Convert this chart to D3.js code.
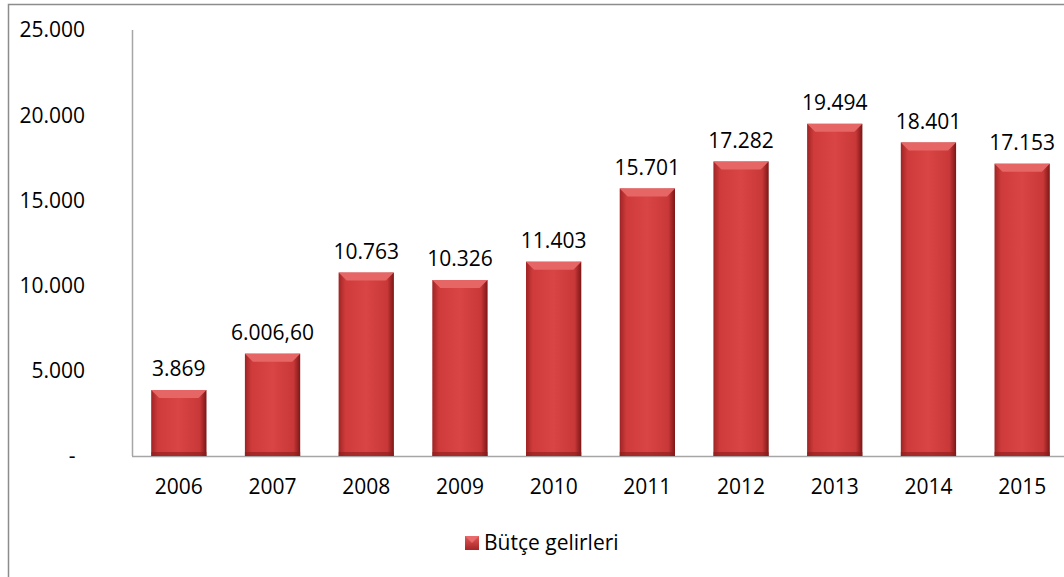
<!DOCTYPE html>
<html>
<head>
<meta charset="utf-8">
<style>
body { margin: 0; background: #fff; }
text { font-family: "Open Sans", "Noto Sans", sans-serif; }
</style>
</head>
<body>
<svg width="1064" height="577"></svg>
<script src="https://cdn.jsdelivr.net/npm/d3@7"></script>
<script>

var years = ["2006", "2007", "2008", "2009", "2010", "2011", "2012", "2013", "2014", "2015"];
var gelir = [3869, 6006.6, 10763, 10326, 11403, 15701, 17282, 19494, 18401, 17153];
var labels = ["3.869", "6.006,60", "10.763", "10.326", "11.403", "15.701", "17.282", "19.494", "18.401", "17.153"];
var yTicks = [0, 5000, 10000, 15000, 20000, 25000];
var yTickLabels = ["-", "5.000", "10.000", "15.000", "20.000", "25.000"];
var seriesName = "Bütçe gelirleri";

var svg = d3.select("svg"),
    margin = {top: 30, left: 132, bottom: 121},
    height = 577 - margin.top - margin.bottom,
    width = 937;

// outer chart frame
svg.append("rect")
    .attr("x", 8.5).attr("y", 4.5)
    .attr("width", 1100).attr("height", 620)
    .attr("fill", "none").attr("stroke", "#8c8c8c").attr("stroke-width", 1.5);

var g = svg.append("g").attr("transform", "translate(" + margin.left + "," + margin.top + ")");

var x = d3.scaleBand().domain(years).range([0, width]).paddingInner(0.41).paddingOuter(0.205);
var y = d3.scaleLinear().domain([0, 25000]).range([height, 0]);

var defs = svg.append("defs");
var grad = defs.append("linearGradient").attr("id", "barGrad").attr("x1", 0).attr("x2", 1).attr("y1", 0).attr("y2", 0);
grad.append("stop").attr("offset", "0%").attr("stop-color", "#9e2424");
grad.append("stop").attr("offset", "12%").attr("stop-color", "#cf3b3b");
grad.append("stop").attr("offset", "50%").attr("stop-color", "#d94444");
grad.append("stop").attr("offset", "88%").attr("stop-color", "#c93838");
grad.append("stop").attr("offset", "100%").attr("stop-color", "#7c1616");

var lg = defs.append("linearGradient").attr("id", "legGrad").attr("x1", 0).attr("x2", 0).attr("y1", 0).attr("y2", 1);
lg.append("stop").attr("offset", "0%").attr("stop-color", "#e05858");
lg.append("stop").attr("offset", "100%").attr("stop-color", "#a82525");

// axes
g.append("line").attr("x1", 0.5).attr("x2", 0.5).attr("y1", 0).attr("y2", height)
    .attr("stroke", "#a6a6a6").attr("stroke-width", 1.5);
g.append("line").attr("x1", 0).attr("x2", width + 20).attr("y1", height + 0.5).attr("y2", height + 0.5)
    .attr("stroke", "#a6a6a6").attr("stroke-width", 1.5);

g.selectAll(".ytick").data(yTicks).enter().append("text")
    .attr("class", "ytick")
    .attr("x", function(d) { return d === 0 ? -60 : -47; })
    .attr("y", function(d) { return y(d); })
    .attr("dy", "0.35em")
    .attr("text-anchor", function(d) { return d === 0 ? "middle" : "end"; })
    .attr("font-size", 21)
    .text(function(d, i) { return yTickLabels[i]; });

g.selectAll(".xtick").data(years).enter().append("text")
    .attr("class", "xtick")
    .attr("x", function(d) { return x(d) + x.bandwidth() / 2; })
    .attr("y", height + 38)
    .attr("text-anchor", "middle")
    .attr("font-size", 21)
    .text(function(d) { return d; });

var bars = g.selectAll(".bar").data(years).enter().append("g").attr("class", "bar");

bars.append("rect")
    .attr("x", function(d) { return x(d); })
    .attr("y", function(d, i) { return y(gelir[i]); })
    .attr("width", x.bandwidth())
    .attr("height", function(d, i) { return height - y(gelir[i]); })
    .attr("fill", "url(#barGrad)");

// top bevel
bars.append("path")
    .attr("d", function(d, i) {
      var x0 = x(d), x1 = x0 + x.bandwidth(), t = y(gelir[i]), b = 8;
      return "M" + x0 + "," + t + "L" + x1 + "," + t + "L" + (x1 - b) + "," + (t + b) + "L" + (x0 + b) + "," + (t + b) + "Z";
    })
    .attr("fill", "#e66666");

// bottom shadow
bars.append("rect")
    .attr("x", function(d) { return x(d); })
    .attr("y", height - 4)
    .attr("width", x.bandwidth())
    .attr("height", 4)
    .attr("fill", "#8a1c1c")
    .attr("opacity", 0.6);

bars.append("text")
    .attr("x", function(d) { return x(d) + x.bandwidth() / 2; })
    .attr("y", function(d, i) { return y(gelir[i]) - 21; })
    .attr("dy", "0.35em")
    .attr("text-anchor", "middle")
    .attr("font-size", 21)
    .text(function(d, i) { return labels[i]; });

// legend
var legend = svg.append("g").attr("transform", "translate(465,536)");
legend.append("rect").attr("width", 14).attr("height", 14).attr("fill", "url(#legGrad)");
legend.append("path").attr("d", "M0,0L14,0L7,7Z").attr("fill", "#e86a6a");
legend.append("text").attr("x", 19).attr("y", 7).attr("dy", "0.35em")
    .attr("font-size", 21).text(seriesName);

</script>
</body>
</html>
